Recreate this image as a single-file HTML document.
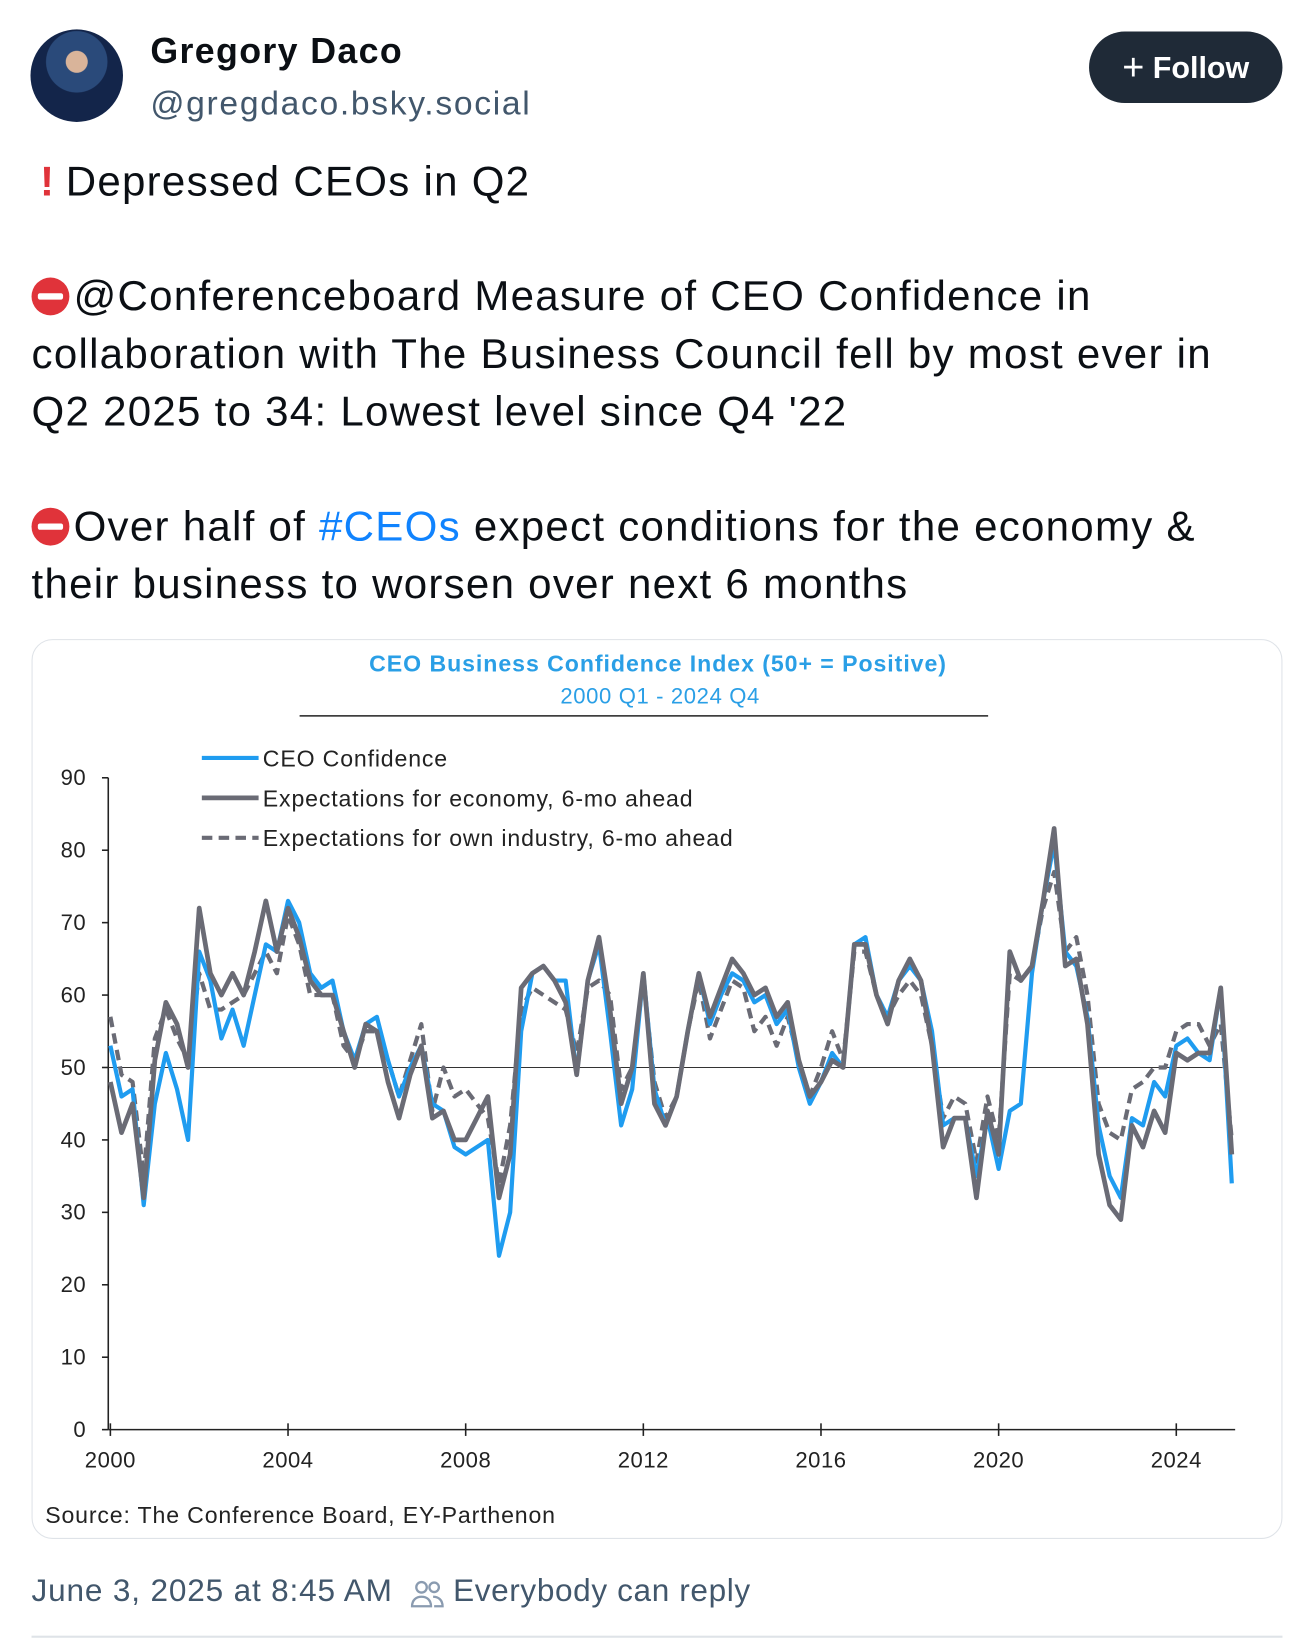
<!DOCTYPE html>
<html><head><meta charset="utf-8">
<style>
html,body{margin:0;padding:0;background:#fff;}
body{width:1314px;height:1644px;overflow:hidden;position:relative;font-family:"Liberation Sans",sans-serif;}
#wrap{position:absolute;left:0;top:0;width:1250px;height:1564px;transform:scale(1.0512);transform-origin:0 0;}
.abs{position:absolute;white-space:nowrap;}
.txt{font-size:40px;color:#0b0f14;line-height:55px;letter-spacing:1.2px;}
.stop{display:inline-block;width:36px;height:36px;border-radius:50%;background:#e0333a;position:relative;vertical-align:-5px;margin-right:4px;}
.stop:after{content:"";position:absolute;left:6px;right:6px;top:15px;height:6px;background:#fff;border-radius:2px;}
</style></head>
<body>
<div id="wrap">
<div class="abs" style="left:29px;top:28px;width:88px;height:88px;border-radius:50%;background:radial-gradient(circle at 50% 35%,#d9b49a 0 14%,#2a4a7a 15% 40%,#13254a 41%);"></div>
<div class="abs" style="left:143px;top:30px;font-size:34px;font-weight:bold;color:#0b0f14;letter-spacing:1.3px;">Gregory Daco</div>
<div class="abs" style="left:143px;top:80px;font-size:32px;color:#42576c;letter-spacing:1.6px;">@gregdaco.bsky.social</div>
<div class="abs" style="left:1036px;top:30px;width:184px;height:68px;border-radius:34px;background:#1f2a37;color:#fff;font-size:29px;font-weight:bold;line-height:68px;text-align:center;"><span style="font-weight:normal;font-size:36px;vertical-align:-2px;margin-right:8px;">+</span>Follow</div>

<div class="abs txt" style="left:30px;top:146px;"><span style="color:#e0333a;font-weight:bold;margin:0 10px 0 8px;">!</span>Depressed CEOs in Q2</div>
<div class="abs txt" style="left:30px;top:255px;"><span class="stop"></span>@Conferenceboard Measure of CEO Confidence in<br>collaboration with The Business Council fell by most ever in<br>Q2 2025 to 34: Lowest level since Q4 '22</div>
<div class="abs txt" style="left:30px;top:474px;"><span class="stop"></span>Over half of <span style="color:#1083fe;">#CEOs</span> expect conditions for the economy &amp;<br>their business to worsen over next 6 months</div>

<div class="abs" style="left:30px;top:608px;width:1188px;height:854px;border:1px solid #dfe3e8;border-radius:20px;"></div>
<svg class="abs" style="left:0;top:0" width="1250" height="1564" id="chart">
<text x="626" y="639" text-anchor="middle" font-size="22" font-weight="bold" fill="#2a9fe6" font-family="Liberation Sans" letter-spacing="0.9">CEO Business Confidence Index (50+ = Positive)</text>
<text x="628" y="669" text-anchor="middle" font-size="21" fill="#2a9fe6" font-family="Liberation Sans" letter-spacing="0.6">2000 Q1 - 2024 Q4</text>
<line x1="285" y1="681" x2="940" y2="681" stroke="#222" stroke-width="1.5"/>
<g font-family="Liberation Sans" font-size="22" fill="#222" letter-spacing="0.8">
<line x1="192" y1="721" x2="246" y2="721" stroke="#1f9cf0" stroke-width="4"/>
<text x="250" y="729">CEO Confidence</text>
<line x1="192" y1="759" x2="246" y2="759" stroke="#6a6b75" stroke-width="4.5"/>
<text x="250" y="767">Expectations for economy, 6-mo ahead</text>
<line x1="192" y1="797" x2="246" y2="797" stroke="#6a6b75" stroke-width="4" stroke-dasharray="10,6"/>
<text x="250" y="805">Expectations for own industry, 6-mo ahead</text>
</g>
<g id="axes"></g>
<g id="series"></g>
<text x="43" y="1449" font-size="22" fill="#222" font-family="Liberation Sans" letter-spacing="0.8">Source: The Conference Board, EY-Parthenon</text>
</svg>

<div class="abs" style="left:30px;top:1497px;font-size:30px;color:#42576c;letter-spacing:0.8px;">June 3, 2025 at 8:45 AM</div>
<svg class="abs" style="left:390px;top:1502px" width="34" height="30"><g fill="none" stroke="#8a9bb0" stroke-width="2.2"><circle cx="11" cy="8" r="5"/><path d="M2 26c0-6 4-9 9-9s9 3 9 9z"/><circle cx="23" cy="8" r="4.5"/><path d="M22 17c5 0 9 3 9 9h-8"/></g></svg>
<div class="abs" style="left:431px;top:1497px;font-size:30px;color:#42576c;letter-spacing:0.6px;">Everybody can reply</div>
<div class="abs" style="left:30px;top:1556px;width:1190px;height:2px;background:#dfe3e8;"></div>
</div>

<script>
const yTicks=[0,10,20,30,40,50,60,70,80,90];
const xTicks=[2000,2004,2008,2012,2016,2020,2024];
const startYear=2000;
const ceoConfidence=[53,46,47,31, 45,52,47,40, 66,62,54,58, 53,60,67,66, 73,70,63,61, 62,55,51,56, 57,51,46,50, 53,45,44,39, 38,39,40,24, 30,55,63,64, 62,62,49,62, 67,55,42,47, 63,47,42,46, 55,63,56,60, 63,62,59,60, 56,58,50,45, 48,52,50,67, 68,60,57,62, 64,62,55,42, 43,43,35,43, 36,44,45,63, 73,81,66,64, 57,42,35,32, 43,42,48,46, 53,54,52,51, 61,34];
const economyExp=[48,41,45,32, 51,59,56,50, 72,63,60,63, 60,66,73,66, 72,68,62,60, 60,55,50,56, 55,48,43,49, 53,43,44,40, 40,43,46,32, 38,61,63,64, 62,59,49,62, 68,58,45,50, 63,45,42,46, 55,63,57,61, 65,63,60,61, 57,59,51,46, 48,51,50,67, 67,60,56,62, 65,62,53,39, 43,43,32,44, 38,66,62,64, 73,83,64,65, 56,38,31,29, 42,39,44,41, 52,51,52,52, 61,38];
const industryExp=[57,49,48,35, 54,58,54,51, 63,58,58,59, 60,63,66,63, 71,67,60,60, 60,53,51,55, 55,51,46,51, 56,44,50,46, 47,45,43,34, 42,58,61,60, 59,58,52,61, 62,60,47,50, 62,48,43,46, 55,62,54,58, 62,61,55,57, 53,57,51,46, 50,55,51,66, 66,60,57,60, 62,60,53,43, 46,45,37,46, 40,63,62,64, 72,77,66,68, 60,45,41,40, 47,48,50,50, 55,56,56,53, 56,40];

const NS="http://www.w3.org/2000/svg";
const X0=105, PXY=42.25, Y0=1360, PXV=6.89;
function xs(t){return X0+(t-startYear)*PXY;}
function ys(v){return Y0-v*PXV;}
function mk(tag,attrs,parent){const e=document.createElementNS(NS,tag);for(const k in attrs)e.setAttribute(k,attrs[k]);parent.appendChild(e);return e;}
const axes=document.getElementById('axes'), ser=document.getElementById('series');

let e=mk('line',{x1:103,y1:ys(90),x2:103,y2:Y0,stroke:'#222','stroke-width':1.5},axes);


e=mk('line',{x1:103,y1:Y0,x2:1175,y2:Y0,stroke:'#222','stroke-width':1.5},axes);


yTicks.forEach(v=>{
  mk('line',{x1:97,y1:ys(v),x2:103,y2:ys(v),stroke:'#222','stroke-width':1.5},axes);
  const t=mk('text',{x:82,y:ys(v)+7,'text-anchor':'end','font-size':21,fill:'#222','font-family':'Liberation Sans','letter-spacing':0.5},axes);
  t.textContent=v;
  
  
});
xTicks.forEach(yr=>{
  mk('line',{x1:xs(yr),y1:Y0-6,x2:xs(yr),y2:Y0+6,stroke:'#222','stroke-width':1.5},axes);
  const t=mk('text',{x:xs(yr),y:Y0+36,'text-anchor':'middle','font-size':21,fill:'#222','font-family':'Liberation Sans','letter-spacing':0.5},axes);
  t.textContent=yr;
  
  
});
e=mk('line',{x1:103,y1:ys(50),x2:1163,y2:ys(50),stroke:'#333','stroke-width':1},axes);



function pts(arr){return arr.map((v,i)=>xs(startYear+i/4).toFixed(1)+','+ys(v).toFixed(1)).join(' ');}
e=mk('polyline',{points:pts(industryExp),fill:'none',stroke:'#6a6b75','stroke-width':4,'stroke-dasharray':'10,6','stroke-linejoin':'round'},ser);


e=mk('polyline',{points:pts(ceoConfidence),fill:'none',stroke:'#1f9cf0','stroke-width':4,'stroke-linejoin':'round'},ser);


e=mk('polyline',{points:pts(economyExp),fill:'none',stroke:'#6a6b75','stroke-width':4.5,'stroke-linejoin':'round'},ser);


</script>
</body></html>
